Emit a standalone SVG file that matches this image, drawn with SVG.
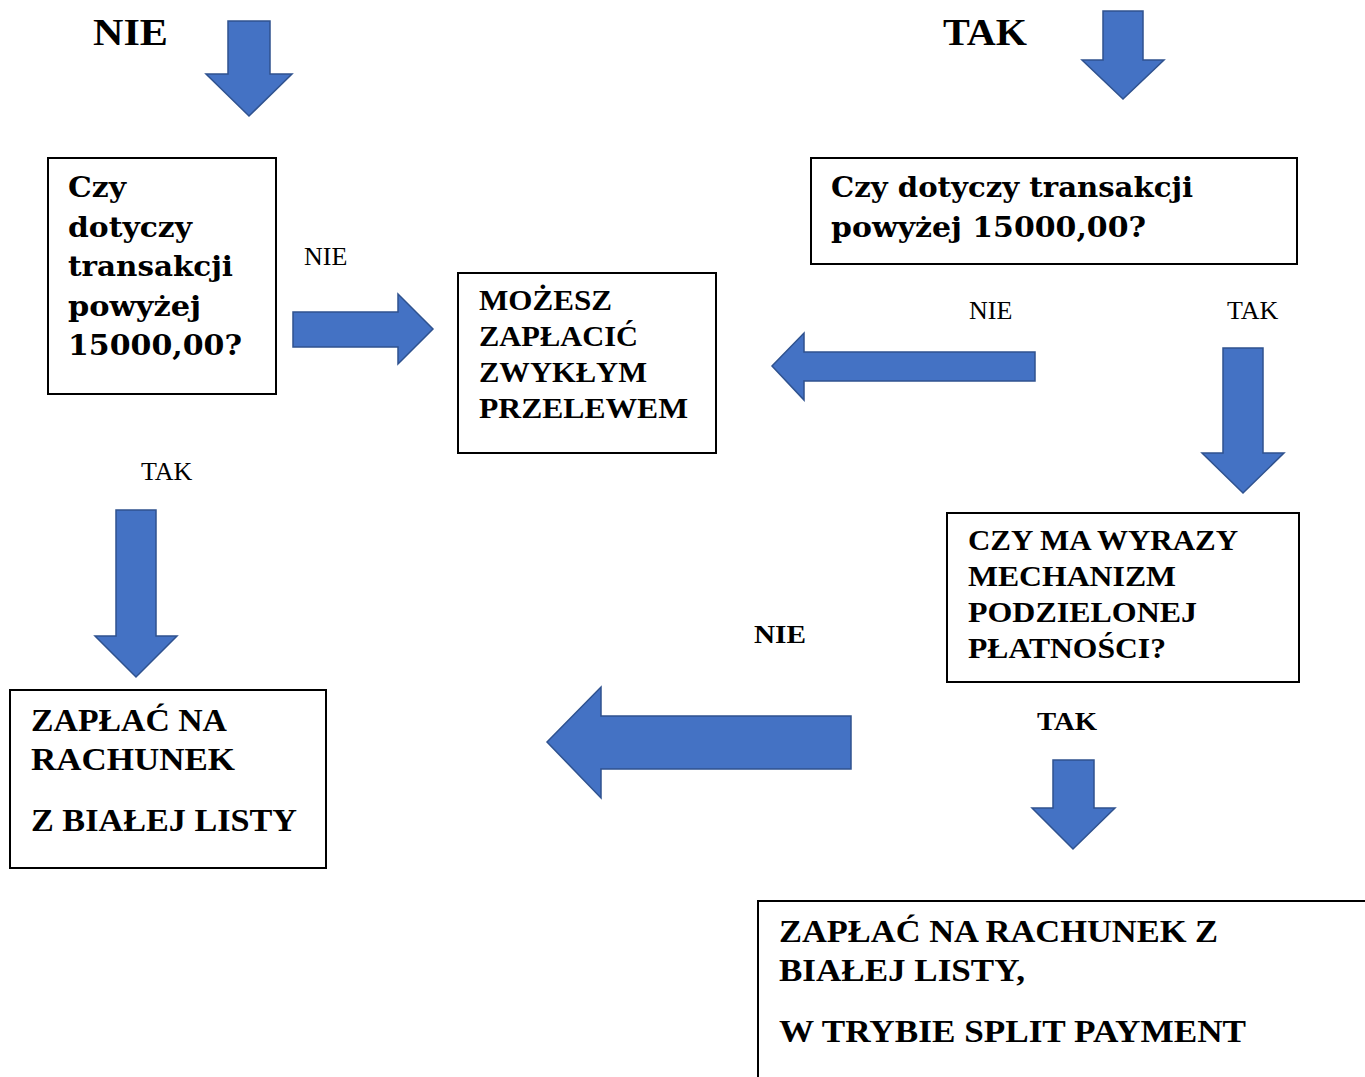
<svg xmlns="http://www.w3.org/2000/svg" width="1365" height="1077" viewBox="0 0 1365 1077">
<style>
.box{fill:#fff;stroke:#000;stroke-width:2}
.arrow{fill:#4472C4;stroke:#2F528F;stroke-width:1.5;stroke-linejoin:miter}
.g{font-family:"DejaVu Serif","Liberation Serif",serif;font-weight:bold;font-size:27px;fill:#000}
.c{font-family:"Liberation Serif",serif;font-weight:bold;font-size:30px;fill:#000}
.big{font-family:"Liberation Serif",serif;font-weight:bold;font-size:37px;fill:#000}
.lbl{font-family:"Liberation Serif",serif;font-size:26px;fill:#000}
.lblb{font-family:"Liberation Serif",serif;font-weight:bold;font-size:26px;fill:#000}
</style>
<rect width="1365" height="1077" fill="#fff"/>
<g id="labels">
<text class="big" x="93" y="45" textLength="75" lengthAdjust="spacingAndGlyphs">NIE</text>
<text class="big" x="943" y="45" textLength="84" lengthAdjust="spacingAndGlyphs">TAK</text>
<text class="lbl" x="304" y="265">NIE</text>
<text class="lbl" x="969" y="319">NIE</text>
<text class="lbl" x="1227" y="319">TAK</text>
<text class="lbl" x="141" y="480">TAK</text>
<text class="lblb" x="754" y="643" textLength="52" lengthAdjust="spacingAndGlyphs">NIE</text>
<text class="lblb" x="1037" y="730" textLength="60" lengthAdjust="spacingAndGlyphs">TAK</text>
</g>
<g id="connectors">
<path class="arrow" d="M228,21 L270,21 L270,74 L292,74 L249,116 L206,74 L228,74 Z"/>
<path class="arrow" d="M1103,11 L1143,11 L1143,60 L1164,60 L1123,99 L1082,60 L1103,60 Z"/>
<path class="arrow" d="M293,312 L398,312 L398,294 L433,329 L398,364 L398,347 L293,347 Z"/>
<path class="arrow" d="M1035,352 L804,352 L804,333 L772,366 L804,400 L804,381 L1035,381 Z"/>
<path class="arrow" d="M1223,348 L1263,348 L1263,453 L1284,453 L1243,493 L1202,453 L1223,453 Z"/>
<path class="arrow" d="M116,510 L156,510 L156,636 L177,636 L136,677 L95,636 L116,636 Z"/>
<path class="arrow" d="M851,716 L601,716 L601,687 L547,742 L601,798 L601,769 L851,769 Z"/>
<path class="arrow" d="M1053,760 L1094,760 L1094,808 L1115,808 L1073,849 L1032,808 L1053,808 Z"/>
</g>
<g id="node-q1">
<rect class="box" x="48" y="158" width="228" height="236"/>
<text class="g" x="68" y="197" textLength="58" lengthAdjust="spacingAndGlyphs">Czy</text>
<text class="g" x="68" y="237" textLength="124" lengthAdjust="spacingAndGlyphs">dotyczy</text>
<text class="g" x="68" y="276" textLength="165" lengthAdjust="spacingAndGlyphs">transakcji</text>
<text class="g" x="68" y="316" textLength="133" lengthAdjust="spacingAndGlyphs">powyżej</text>
<text class="g" x="68" y="355" textLength="174" lengthAdjust="spacingAndGlyphs">15000,00?</text>
</g>
<g id="node-przelew">
<rect class="box" x="458" y="273" width="258" height="180"/>
<text class="c" x="479" y="310" textLength="133" lengthAdjust="spacingAndGlyphs">MOŻESZ</text>
<text class="c" x="479" y="346" textLength="159" lengthAdjust="spacingAndGlyphs">ZAPŁACIĆ</text>
<text class="c" x="479" y="382" textLength="168" lengthAdjust="spacingAndGlyphs">ZWYKŁYM</text>
<text class="c" x="479" y="418" textLength="209" lengthAdjust="spacingAndGlyphs">PRZELEWEM</text>
</g>
<g id="node-q2">
<rect class="box" x="811" y="158" width="486" height="106"/>
<text class="g" x="831" y="197" textLength="362" lengthAdjust="spacingAndGlyphs">Czy dotyczy transakcji</text>
<text class="g" x="831" y="237" textLength="315" lengthAdjust="spacingAndGlyphs">powyżej 15000,00?</text>
</g>
<g id="node-q3">
<rect class="box" x="947" y="513" width="352" height="169"/>
<text class="c" x="968" y="550" textLength="270" lengthAdjust="spacingAndGlyphs">CZY MA WYRAZY</text>
<text class="c" x="968" y="586" textLength="208" lengthAdjust="spacingAndGlyphs">MECHANIZM</text>
<text class="c" x="968" y="622" textLength="229" lengthAdjust="spacingAndGlyphs">PODZIELONEJ</text>
<text class="c" x="968" y="658" textLength="198" lengthAdjust="spacingAndGlyphs">PŁATNOŚCI?</text>
</g>
<g id="node-biala">
<rect class="box" x="10" y="690" width="316" height="178"/>
<text class="c" x="31" y="731" textLength="196" lengthAdjust="spacingAndGlyphs" style="font-size:32px">ZAPŁAĆ NA</text>
<text class="c" x="31" y="770" textLength="204" lengthAdjust="spacingAndGlyphs" style="font-size:32px">RACHUNEK</text>
<text class="c" x="31" y="831" textLength="266" lengthAdjust="spacingAndGlyphs" style="font-size:32px">Z BIAŁEJ LISTY</text>
</g>
<g id="node-split">
<rect class="box" x="758" y="901" width="620" height="200"/>
<text class="c" x="779" y="942" textLength="439" lengthAdjust="spacingAndGlyphs" style="font-size:32px">ZAPŁAĆ NA RACHUNEK Z</text>
<text class="c" x="779" y="981" textLength="246" lengthAdjust="spacingAndGlyphs" style="font-size:32px">BIAŁEJ LISTY,</text>
<text class="c" x="779" y="1042" textLength="467" lengthAdjust="spacingAndGlyphs" style="font-size:32px">W TRYBIE SPLIT PAYMENT</text>
</g>
</svg>
